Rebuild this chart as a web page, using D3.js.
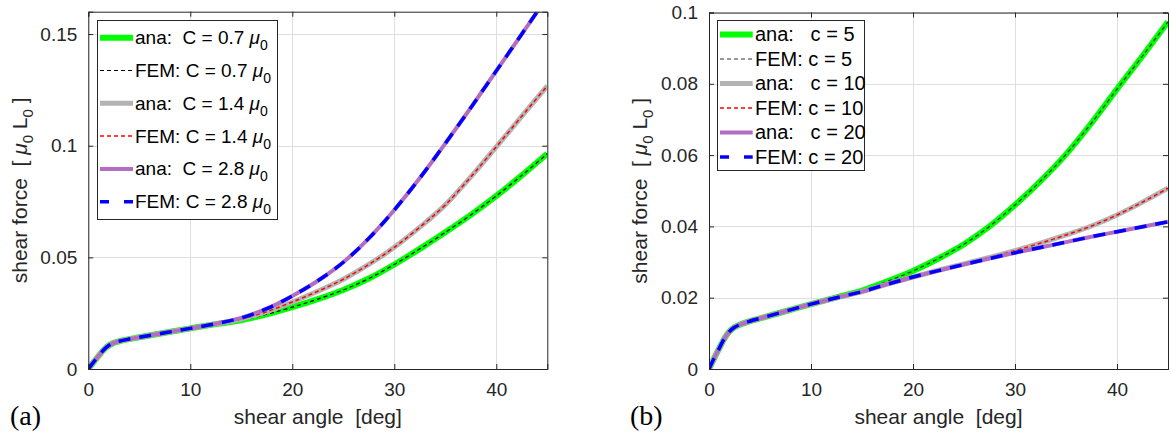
<!DOCTYPE html>
<html><head><meta charset="utf-8">
<script src="https://cdn.jsdelivr.net/npm/d3@7"></script>
<style>
body{margin:0;background:#fff;}
svg{display:block;font-family:"Liberation Sans",Arial,sans-serif;}
text{white-space:pre;}
</style></head><body>
<svg id="chart" width="1171" height="438"></svg>
<script>
// ---------- data ----------
const theta = [0,0.5,1,1.5,2,2.5,3,4,5,7.5,10,12.5,15,17.5,20,22.5,25,27.5,30,32.5,35,37.5,40,42.5,45];

// panel (a)
const anaC07 = [0,0.0030,0.0058,0.0085,0.0105,0.0117,0.0124,0.0134,0.0142,0.0162,0.0182,0.0201,0.0218,0.0245,0.0277,0.0313,0.0354,0.0405,0.0468,0.0538,0.0612,0.0690,0.0775,0.0867,0.0964];
const femC07 = [0,0.0030,0.0058,0.0085,0.0105,0.0117,0.0124,0.0134,0.0142,0.0162,0.0182,0.0201,0.0218,0.0245,0.0277,0.0313,0.0354,0.0405,0.0468,0.0538,0.0612,0.0690,0.0775,0.0867,0.0964];
const anaC14 = [0,0.0030,0.0058,0.0085,0.0105,0.0117,0.0124,0.0134,0.0142,0.0162,0.0182,0.0202,0.0224,0.0257,0.0300,0.0348,0.0402,0.0468,0.0545,0.0635,0.0735,0.0860,0.0995,0.1132,0.1268];
const femC14 = [0,0.0030,0.0058,0.0085,0.0105,0.0117,0.0124,0.0134,0.0142,0.0162,0.0182,0.0202,0.0224,0.0257,0.0300,0.0348,0.0402,0.0468,0.0545,0.0635,0.0735,0.0860,0.0995,0.1132,0.1268];
const anaC28 = [0,0.0030,0.0058,0.0085,0.0105,0.0117,0.0124,0.0134,0.0142,0.0162,0.0182,0.0203,0.0229,0.0270,0.0327,0.0395,0.0478,0.0585,0.0712,0.0855,0.1010,0.1170,0.1335,0.1500,0.1665];
const femC28 = [0,0.0030,0.0058,0.0085,0.0105,0.0117,0.0124,0.0134,0.0142,0.0162,0.0182,0.0203,0.0229,0.0270,0.0327,0.0395,0.0478,0.0585,0.0712,0.0855,0.1010,0.1170,0.1335,0.1500,0.1665];

// panel (b)
const anaC5  = [0,0.0030,0.0058,0.0085,0.0105,0.0117,0.0124,0.0134,0.0142,0.0162,0.0182,0.0201,0.0220,0.0246,0.0275,0.0310,0.0350,0.0400,0.0460,0.0527,0.0602,0.0690,0.0785,0.0878,0.0974];
const femC5  = [0,0.0030,0.0058,0.0085,0.0105,0.0117,0.0124,0.0134,0.0142,0.0162,0.0182,0.0201,0.0220,0.0246,0.0275,0.0310,0.0350,0.0400,0.0460,0.0527,0.0602,0.0690,0.0785,0.0878,0.0974];
const anaC10 = [0,0.0030,0.0058,0.0085,0.0105,0.0117,0.0124,0.0134,0.0142,0.0162,0.0182,0.0200,0.0217,0.0238,0.0258,0.0277,0.0295,0.0313,0.0332,0.0353,0.0376,0.0401,0.0432,0.0468,0.0507];
const femC10 = [0,0.0030,0.0058,0.0085,0.0105,0.0117,0.0124,0.0134,0.0142,0.0162,0.0182,0.0200,0.0217,0.0238,0.0258,0.0277,0.0295,0.0313,0.0332,0.0353,0.0376,0.0401,0.0432,0.0468,0.0507];
const anaC20 = [0,0.0030,0.0058,0.0085,0.0105,0.0117,0.0124,0.0134,0.0142,0.0162,0.0182,0.0200,0.0217,0.0238,0.0258,0.0276,0.0293,0.0310,0.0326,0.0341,0.0356,0.0371,0.0385,0.0399,0.0413];
const femC20 = [0,0.0030,0.0058,0.0085,0.0105,0.0117,0.0124,0.0134,0.0142,0.0162,0.0182,0.0200,0.0217,0.0238,0.0258,0.0276,0.0293,0.0310,0.0326,0.0341,0.0356,0.0371,0.0385,0.0399,0.0413];

const xTicks = [0,10,20,30,40];
const yTicksA = [0,0.05,0.1,0.15];
const yTicksB = [0,0.02,0.04,0.06,0.08,0.1];
const yTickLabelsA = ["0","0.05","0.1","0.15"];
const yTickLabelsB = ["0","0.02","0.04","0.06","0.08","0.1"];
const legendA = [["ana:  C = 0.7 ","0"],["FEM: C = 0.7 ","0"],["ana:  C = 1.4 ","0"],["FEM: C = 1.4 ","0"],["ana:  C = 2.8 ","0"],["FEM: C = 2.8 ","0"]];
const legendB = ["ana:   c = 5","FEM: c = 5","ana:   c = 10","FEM: c = 10","ana:   c = 20","FEM: c = 20"];

// ---------- styles ----------
const styleA = [
  {c:"#00ff00", w:6, d:null},
  {c:"#000000", w:1.2, d:"4,3"},
  {c:"#b3b3b3", w:5, d:null},
  {c:"#ff0000", w:1.5, d:"4,3"},
  {c:"#b46cc0", w:4, d:null},
  {c:"#0000ff", w:3.5, d:"12,9"}
];
const styleB = [
  {c:"#00ff00", w:6, d:null},
  {c:"#303030", w:1.2, d:"4,3"},
  {c:"#b3b3b3", w:5, d:null},
  {c:"#ff0000", w:1.5, d:"4,3"},
  {c:"#b46cc0", w:4, d:null},
  {c:"#0000ff", w:3.5, d:"12,9"}
];

const svg = d3.select("#chart");
const axisCol = "#262626";
const gridCol = "#dfdfdf";

function panel(opt){
  const x = d3.scaleLinear().domain([0,45]).range([opt.x0, opt.x1]);
  const y = d3.scaleLinear().domain([0,opt.ymax]).range([369, opt.ytop]);
  const g = svg.append("g");
  const clipId = "clip"+opt.id;
  svg.append("clipPath").attr("id",clipId).append("rect")
    .attr("x",opt.x0).attr("y",opt.ytop).attr("width",opt.x1-opt.x0).attr("height",369-opt.ytop);
  // grid
  g.selectAll(".gx").data(xTicks).enter().append("line")
    .attr("x1",d=>Math.round(x(d))+0.5).attr("x2",d=>Math.round(x(d))+0.5)
    .attr("y1",y(0)).attr("y2",opt.ytop).attr("stroke",gridCol).attr("stroke-width",1);
  g.selectAll(".gy").data(opt.yTicks).enter().append("line")
    .attr("y1",d=>Math.round(y(d))+0.5).attr("y2",d=>Math.round(y(d))+0.5)
    .attr("x1",opt.x0).attr("x2",opt.x1).attr("stroke",gridCol).attr("stroke-width",1);
  // lines
  const line = d3.line().x((d,i)=>x(theta[i])).y(d=>y(d)).curve(d3.curveMonotoneX);
  const lg = g.append("g").attr("clip-path","url(#"+clipId+")");
  opt.series.forEach((s,i)=>{
    const st = opt.styles[i];
    lg.append("path").attr("d",line(s)).attr("fill","none")
      .attr("stroke",st.c).attr("stroke-width",st.w)
      .attr("stroke-dasharray",st.d).attr("stroke-linejoin","round");
  });
  // axes with mirrored inward ticks
  const xa = d3.axisBottom(x).tickValues(xTicks).tickSize(-5).tickPadding(14).tickFormat(d3.format("d"));
  const xt = d3.axisTop(x).tickValues(xTicks).tickSize(-5).tickFormat("");
  const ya = d3.axisLeft(y).tickValues(opt.yTicks).tickSize(-5).tickPadding(11).tickFormat((d,i)=>opt.yLabels[i]);
  const yr = d3.axisRight(y).tickValues(opt.yTicks).tickSize(-5).tickFormat("");
  const ax = [
    g.append("g").attr("transform","translate(0,369)").call(xa),
    g.append("g").attr("transform","translate(0,"+opt.ytop+")").call(xt),
    g.append("g").attr("transform","translate("+opt.x0+",0)").call(ya),
    g.append("g").attr("transform","translate("+opt.x1+",0)").call(yr)
  ];
  ax.forEach(a=>{
    a.select(".domain").attr("stroke",axisCol);
    a.selectAll(".tick line").attr("stroke",axisCol);
    a.selectAll("text").attr("fill",axisCol).style("font-size","19px").style("font-family","Liberation Sans, Arial, sans-serif");
  });
  // axis labels
  g.append("text").attr("x",(opt.x0+opt.x1)/2).attr("y",424).attr("text-anchor","middle")
    .attr("fill",axisCol).style("font-size","21px").text("shear angle  [deg]");
  const yl = g.append("text").attr("transform","translate("+opt.ylx+","+((369+opt.ytop)/2)+") rotate(-90)")
    .attr("text-anchor","middle").attr("fill",axisCol).style("font-size","21px");
  yl.append("tspan").text("shear force  [ ");
  yl.append("tspan").style("font-style","italic").text("μ");
  yl.append("tspan").style("font-size","15px").attr("dy",6).text("0");
  yl.append("tspan").attr("dy",-6).text(" L");
  yl.append("tspan").style("font-size","15px").attr("dy",6).text("0");
  yl.append("tspan").attr("dy",-6).text(" ]");
  // panel tag
  g.append("text").attr("x",opt.tagx).attr("y",425).style("font-family","Liberation Serif, 'Times New Roman', serif")
    .style("font-size","28px").attr("fill","#000").text(opt.tag);
  // legend
  const L = opt.legend;
  g.append("rect").attr("x",L.x+0.5).attr("y",L.y+0.5).attr("width",L.w).attr("height",L.h)
    .attr("fill","#fff").attr("stroke",axisCol).attr("stroke-width",1);
  opt.legendItems.forEach((it,i)=>{
    const cy = L.row0 + i*L.dy;
    const st = opt.styles[i];
    g.append("line").attr("x1",L.sx0).attr("x2",L.sx1).attr("y1",cy).attr("y2",cy)
      .attr("stroke",st.c).attr("stroke-width",st.w)
      .attr("stroke-dasharray", st.d ? (i===5 ? "9,15" : st.d) : null);
    const t = g.append("text").attr("x",L.tx).attr("y",cy+6.5).attr("fill","#000").style("font-size",L.fs);
    if (Array.isArray(it)){
      t.append("tspan").text(it[0]);
      t.append("tspan").style("font-style","italic").text("μ");
      t.append("tspan").style("font-size","14px").attr("dy",6).text(it[1]);
    } else {
      t.text(it);
    }
  });
}

panel({
  id:"a", x0:88.3, x1:547.3, ymax:0.16, ytop:11.7, yTicks:yTicksA, yLabels:yTickLabelsA,
  series:[anaC07,femC07,anaC14,femC14,anaC28,femC28], styles:styleA,
  ylx:27, tag:"(a)", tagx:10,
  legend:{x:97,y:20,w:180,h:199,row0:37.7,dy:32.8,sx0:100,sx1:133,tx:135,fs:"19px"},
  legendItems:legendA
});
panel({
  id:"b", x0:709, x1:1168, ymax:0.1, ytop:12.5, yTicks:yTicksB, yLabels:yTickLabelsB,
  series:[anaC5,femC5,anaC10,femC10,anaC20,femC20], styles:styleB,
  ylx:647, tag:"(b)", tagx:630,
  legend:{x:717,y:20,w:147,h:150,row0:34.5,dy:24.5,sx0:720,sx1:752.7,tx:755,fs:"20px"},
  legendItems:legendB
});
</script></body></html>
